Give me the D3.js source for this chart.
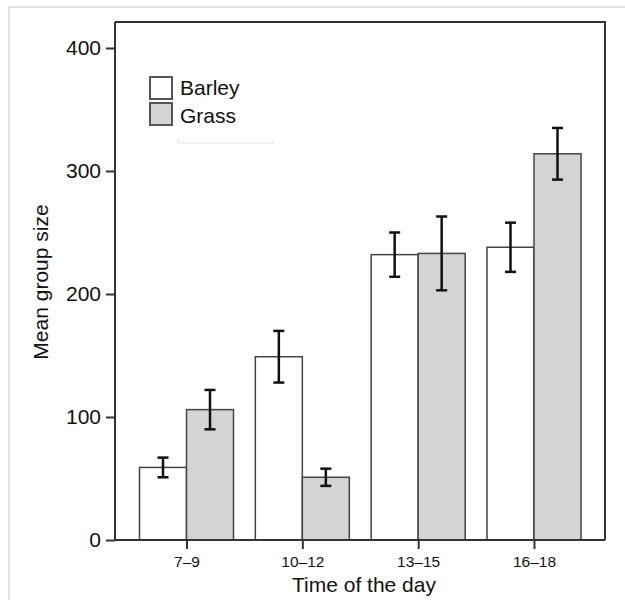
<!DOCTYPE html>
<html>
<head>
<meta charset="utf-8">
<script src="https://cdn.jsdelivr.net/npm/d3@7"></script>
<style>
  body { margin: 0; background: #fff; }
  svg { display: block; font-family: "Liberation Sans", Arial, sans-serif; }
</style>
</head>
<body>
<div id="chart"></div>
<script>
// data
const categories = ["7–9", "10–12", "13–15", "16–18"];
const seriesNames = ["Barley", "Grass"];
const barley = [59, 149, 232, 238];
const barleyErr = [8, 21, 18, 20];
const grass = [106, 51, 233, 314];
const grassErr = [16, 7, 30, 21];
const yTicks = [0, 100, 200, 300, 400];

const width = 625, height = 600;
const fills = { Barley: "#ffffff", Grass: "#d4d4d4" };

const svg = d3.select("#chart").append("svg")
    .attr("width", width)
    .attr("height", height);

/* faint page border (top + left) */
svg.append("line").attr("x1", 9).attr("y1", 7).attr("x2", width).attr("y2", 7)
    .attr("stroke", "#d9d9d9").attr("stroke-width", 1.5);
svg.append("line").attr("x1", 9).attr("y1", 7).attr("x2", 9).attr("y2", height)
    .attr("stroke", "#d9d9d9").attr("stroke-width", 1.5);

/* plot frame */
const frame = { left: 115, right: 605, top: 22, bottom: 540 };

const y = d3.scaleLinear().domain([0, 400]).range([540, 48]);
const x = d3.scalePoint().domain(categories).range([186.5, 534]);
const xSub = d3.scaleBand().domain(seriesNames).range([-47, 47]);

/* rows: one per bar */
let rows = [];
categories.forEach((c, i) => {
    rows.push({ cat: c, series: "Barley", value: barley[i], err: barleyErr[i] });
    rows.push({ cat: c, series: "Grass", value: grass[i], err: grassErr[i] });
});

/* bars */
svg.selectAll("rect.bar")
    .data(rows)
    .enter()
    .append("rect")
    .attr("class", "bar")
    .attr("x", d => x(d.cat) + xSub(d.series))
    .attr("y", d => y(d.value))
    .attr("width", xSub.bandwidth())
    .attr("height", d => y(0) - y(d.value))
    .attr("fill", d => fills[d.series])
    .attr("stroke", "#444")
    .attr("stroke-width", 1.5);

/* error bars */
const eb = svg.selectAll("g.err")
    .data(rows)
    .enter()
    .append("g")
    .attr("class", "err")
    .attr("transform", d => "translate(" + (x(d.cat) + xSub(d.series) + xSub.bandwidth() / 2) + ",0)")
    .attr("stroke", "#111")
    .attr("stroke-width", 2.5);
eb.append("line")
    .attr("x1", 0).attr("x2", 0)
    .attr("y1", d => y(d.value + d.err))
    .attr("y2", d => y(d.value - d.err));
eb.append("line")
    .attr("x1", -5.5).attr("x2", 5.5)
    .attr("y1", d => y(d.value + d.err))
    .attr("y2", d => y(d.value + d.err));
eb.append("line")
    .attr("x1", -5.5).attr("x2", 5.5)
    .attr("y1", d => y(d.value - d.err))
    .attr("y2", d => y(d.value - d.err));

/* frame: top and right sides */
svg.append("path")
    .attr("d", "M" + frame.left + "," + frame.top + "H" + frame.right + "V" + frame.bottom)
    .attr("fill", "none")
    .attr("stroke", "#333")
    .attr("stroke-width", 2);

/* y axis */
const yAxis = d3.axisLeft(y).tickValues(yTicks).tickSize(9).tickPadding(5);
const gy = svg.append("g")
    .attr("transform", "translate(" + frame.left + ",0)")
    .call(yAxis);
gy.select(".domain").remove();
gy.append("line")
    .attr("x1", 0).attr("x2", 0)
    .attr("y1", frame.top).attr("y2", frame.bottom)
    .attr("stroke", "#333").attr("stroke-width", 2);
gy.selectAll(".tick line").attr("stroke", "#333").attr("stroke-width", 2);
gy.selectAll(".tick text")
    .attr("fill", "#111")
    .style("font-size", "21px")
    .style("font-family", "Liberation Sans, Arial, sans-serif");

/* x axis */
const xAxis = d3.axisBottom(x).tickSize(9).tickPadding(7);
const gx = svg.append("g")
    .attr("transform", "translate(0," + frame.bottom + ")")
    .call(xAxis);
gx.select(".domain").remove();
gx.append("line")
    .attr("x1", frame.left).attr("x2", frame.right)
    .attr("y1", 0).attr("y2", 0)
    .attr("stroke", "#333").attr("stroke-width", 2);
gx.selectAll(".tick line").attr("stroke", "#333").attr("stroke-width", 2);
gx.selectAll(".tick text")
    .attr("fill", "#111")
    .style("font-size", "15.5px")
    .style("font-family", "Liberation Sans, Arial, sans-serif");

/* axis titles */
svg.append("text")
    .attr("x", 364).attr("y", 592)
    .attr("text-anchor", "middle")
    .style("font-size", "21px")
    .attr("fill", "#111")
    .text("Time of the day");

svg.append("text")
    .attr("transform", "translate(48,282) rotate(-90)")
    .attr("text-anchor", "middle")
    .style("font-size", "21px")
    .attr("fill", "#111")
    .text("Mean group size");

/* legend */
const legend = svg.append("g").attr("transform", "translate(150,77)");
legend.append("path")
    .attr("d", "M28,66H123M28,62V66M123,62V66")
    .attr("fill", "none")
    .attr("stroke", "#e2e2e2")
    .attr("stroke-width", 1);
seriesNames.forEach((s, i) => {
    legend.append("rect")
        .attr("x", 0).attr("y", i * 26)
        .attr("width", 22).attr("height", 22)
        .attr("fill", fills[s])
        .attr("stroke", "#555")
        .attr("stroke-width", 2);
    legend.append("text")
        .attr("x", 30).attr("y", i * 28.5 + 17.5)
        .style("font-size", "21px")
        .attr("fill", "#111")
        .text(s);
});
</script>
</body>
</html>
